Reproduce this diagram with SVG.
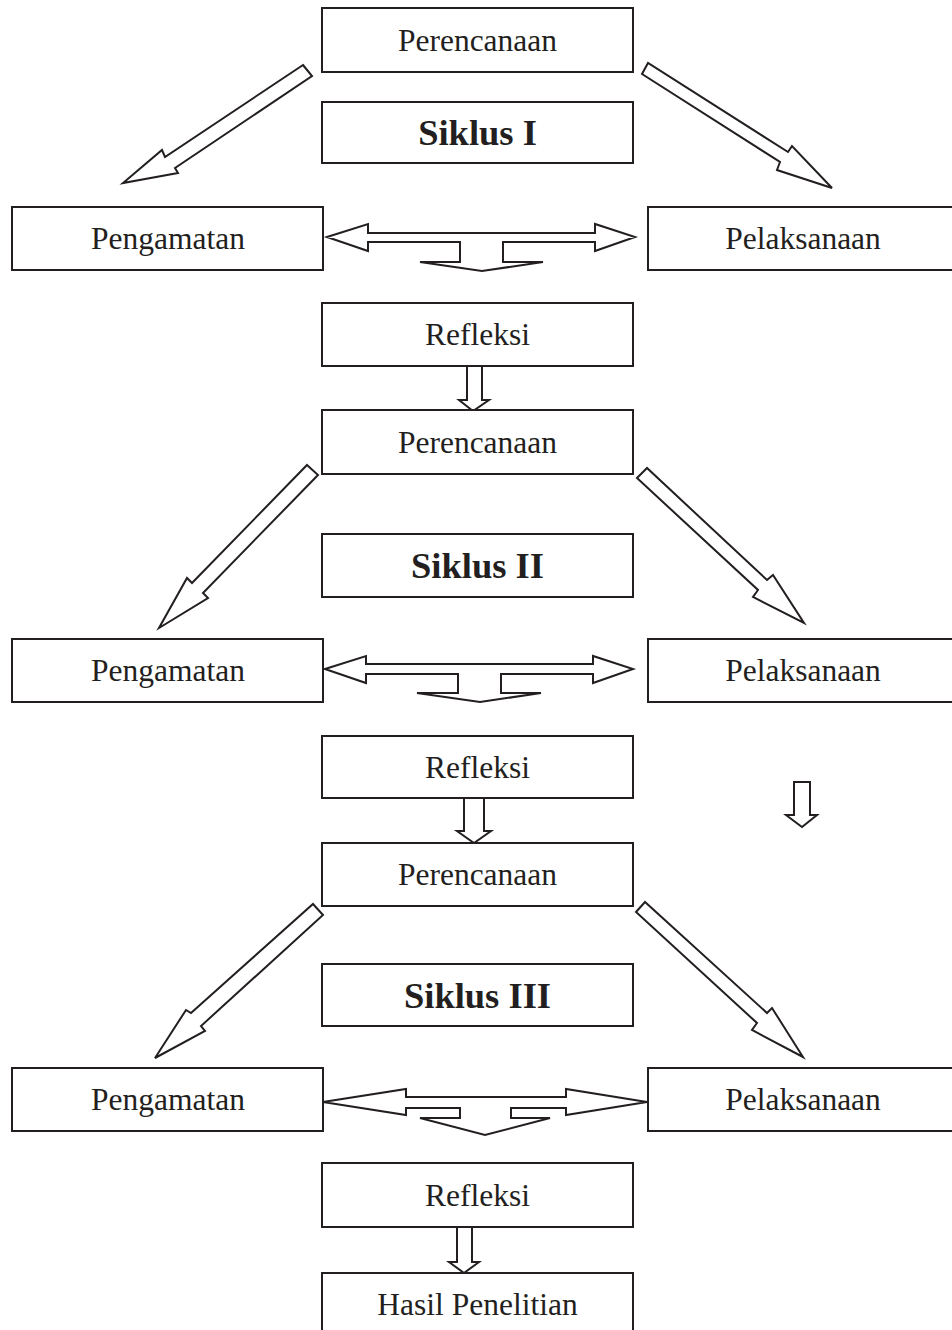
<svg xmlns="http://www.w3.org/2000/svg" width="952" height="1330" viewBox="0 0 952 1330">
<style>
.box{fill:#fff;stroke:#231f20;stroke-width:2}
.t{font-family:"Liberation Serif","Times New Roman",serif;font-size:31.5px;fill:#231f20;text-anchor:middle}
.b{font-family:"Liberation Serif","Times New Roman",serif;font-size:36.5px;font-weight:bold;fill:#231f20;text-anchor:middle}
.ar{fill:#fff;stroke:#231f20;stroke-width:2;stroke-linejoin:miter}
</style>
<rect width="952" height="1330" fill="#fff"/>
<g id="connectors">
<!-- cycle 1 -->
<polygon class="ar" points="303,65 312,76 175,168 178,173 123,183 162,150 165,157"/>
<polygon class="ar" points="648,63 642,74 780,162 777,170 832,188 792,146 788,152"/>
<polygon class="ar" points="327,237 368,224 368,233 595,233 595,224 635,237 595,251 595,242 503,242 503,262 543,262 482,271 420,262 460,262 460,242 368,242 368,251"/>
<polygon class="ar" points="467,366 482,366 482,400 489,400 473,411 459,400 467,400"/>
<!-- cycle 2 -->
<polygon class="ar" points="307,465 318,475 203,593 208,598 159,628 187,578 192,583"/>
<polygon class="ar" points="647,468 637,478 758,590 753,597 804,623 773,575 767,580"/>
<polygon class="ar" points="325,669 366,656 366,664 593,664 593,656 633,669 593,683 593,674 501,674 501,693 541,693 480,702 417,693 458,693 458,674 366,674 366,683"/>
<polygon class="ar" points="464,798 484,798 484,831 491,831 474,843 457,831 464,831"/>
<polygon class="ar" points="794,782 810,782 810,815 817,815 802,827 786,815 794,815"/>
<!-- cycle 3 -->
<polygon class="ar" points="313,904 323,915 201,1026 205,1031 155,1058 186,1010 191,1013"/>
<polygon class="ar" points="645,902 636,912 757,1023 752,1030 803,1057 772,1008 767,1013"/>
<polygon class="ar" points="323,1102 406,1089 406,1097 566,1097 566,1089 647,1102 566,1115 566,1108 511,1108 511,1118 550,1118 485,1135 420,1118 460,1118 460,1108 406,1108 406,1115"/>
<polygon class="ar" points="457,1227 472,1227 472,1262 479,1262 464,1273 449,1262 457,1262"/>
</g>
<g id="perencanaan1"><rect class="box" x="322" y="8" width="311" height="64"/><text class="t" x="477.5" y="50.5">Perencanaan</text></g>
<g id="siklus1"><rect class="box" x="322" y="102" width="311" height="61"/><text class="b" x="477.5" y="145">Siklus I</text></g>
<g id="pengamatan1"><rect class="box" x="12" y="207" width="311" height="63"/><text class="t" x="168" y="249">Pengamatan</text></g>
<g id="pelaksanaan1"><rect class="box" x="648" y="207" width="312" height="63"/><text class="t" x="803" y="249">Pelaksanaan</text></g>
<g id="refleksi1"><rect class="box" x="322" y="303" width="311" height="63"/><text class="t" x="477.5" y="345">Refleksi</text></g>
<g id="perencanaan2"><rect class="box" x="322" y="410" width="311" height="64"/><text class="t" x="477.5" y="452.5">Perencanaan</text></g>
<g id="siklus2"><rect class="box" x="322" y="534" width="311" height="63"/><text class="b" x="477.5" y="578">Siklus II</text></g>
<g id="pengamatan2"><rect class="box" x="12" y="639" width="311" height="63"/><text class="t" x="168" y="681">Pengamatan</text></g>
<g id="pelaksanaan2"><rect class="box" x="648" y="639" width="312" height="63"/><text class="t" x="803" y="681">Pelaksanaan</text></g>
<g id="refleksi2"><rect class="box" x="322" y="736" width="311" height="62"/><text class="t" x="477.5" y="777.5">Refleksi</text></g>
<g id="perencanaan3"><rect class="box" x="322" y="843" width="311" height="63"/><text class="t" x="477.5" y="885">Perencanaan</text></g>
<g id="siklus3"><rect class="box" x="322" y="964" width="311" height="62"/><text class="b" x="477.5" y="1008">Siklus III</text></g>
<g id="pengamatan3"><rect class="box" x="12" y="1068" width="311" height="63"/><text class="t" x="168" y="1110">Pengamatan</text></g>
<g id="pelaksanaan3"><rect class="box" x="648" y="1068" width="312" height="63"/><text class="t" x="803" y="1110">Pelaksanaan</text></g>
<g id="refleksi3"><rect class="box" x="322" y="1163" width="311" height="64"/><text class="t" x="477.5" y="1205.5">Refleksi</text></g>
<g id="hasil"><rect class="box" x="322" y="1273" width="311" height="70"/><text class="t" x="477.5" y="1315">Hasil Penelitian</text></g>
</svg>
